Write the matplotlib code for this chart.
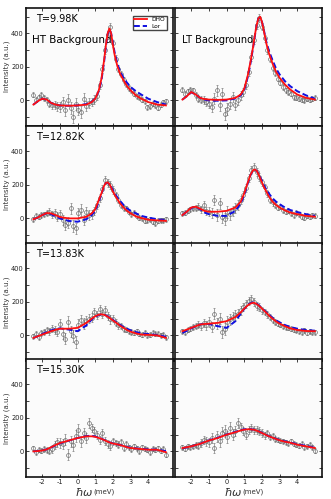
import numpy as np
import matplotlib
matplotlib.use("Agg")
import matplotlib.pyplot as plt

# energy transfer of the measured points (meV)
x_data = [-2.5, -2.35, -2.2, -2.05, -1.9, -1.75, -1.6, -1.45, -1.3, -1.15, -1.0,
          -0.85, -0.7, -0.55, -0.4, -0.25, -0.1, 0.05, 0.2, 0.35, 0.5, 0.65,
          0.8, 0.95, 1.1, 1.25, 1.4, 1.55, 1.7, 1.85, 2.0, 2.15, 2.3, 2.45,
          2.6, 2.75, 2.9, 3.05, 3.2, 3.35, 3.5, 3.65, 3.8, 3.95, 4.1, 4.25,
          4.4, 4.55, 4.7, 4.85, 5.0]
# error bars (same for every panel)
err_data = [15, 15, 15, 16, 16, 18, 20, 22, 24, 26, 28, 30, 32, 34, 34, 35, 35,
            35, 34, 32, 30, 28, 26, 25, 24, 24, 24, 24, 24, 24, 22, 20, 20, 18,
            18, 17, 16, 16, 15, 15, 15, 15, 15, 15, 15, 15, 15, 15, 15, 15, 15]

# energy grid of the fit curves
x_fit = [-2.5, -2.25, -2.0, -1.75, -1.5, -1.25, -1.0, -0.5, 0.0, 0.5, 0.8, 1.0,
         1.2, 1.35, 1.5, 1.6, 1.7, 1.8, 1.9, 2.0, 2.1, 2.25, 2.4, 2.6, 2.8,
         3.0, 3.3, 3.6, 4.0, 4.5, 5.0]

temps = ["T=9.98K", "T=12.82K", "T=13.83K", "T=15.30K"]

# --- HT background column ---
ht_data = [
    [35, 5, 20, 35, 15, 0, -20, -30, -25, -35, -40, -10, -60, 5, -45, -100, -20,
     -55, -70, 10, -35, -15, -10, 5, 25, 90, 190, 300, 390, 440, 340, 250, 190,
     155, 120, 95, 75, 60, 40, 25, 20, 5, -5, -40, -35, -20, -30, -45, -25, -10, -5],
    [-5, 15, 10, 20, 25, 30, 40, 25, 35, 10, 25, -10, -40, -25, 60, -45, -60,
     30, 50, -10, 40, 20, 25, 45, 80, 120, 175, 230, 210, 200, 170, 140, 110,
     80, 65, 60, 40, 25, 35, 15, 5, 0, -15, -10, -5, -20, -30, -15, -10, -10, -5],
    [-5, 10, -10, 15, 20, 30, 25, 40, 35, 20, 70, 10, -20, 80, 25, -5, -40, 60,
     90, 70, 85, 100, 105, 140, 120, 160, 130, 150, 115, 95, 100, 75, 60, 55,
     40, 35, 25, 20, 15, 25, 10, 5, 15, 0, 5, 15, 10, 10, 0, 5, -10],
    [20, -5, 10, 5, 15, 10, 5, 15, 40, 55, 50, 45, 70, -20, 60, 40, 90, 130, 60,
     110, 80, 170, 140, 120, 100, 70, 110, 60, 45, 30, 60, 50, 40, 55, 20, 45,
     25, 15, 30, 20, 0, 25, 15, 10, -5, 15, 10, 20, 5, 15, -20],
]
ht_dho = [
    [-25, -5, 10, 5, -15, -25, -30, -32, -30, -25, -10, 10, 60, 130, 240, 330,
     400, 430, 400, 330, 270, 205, 160, 120, 85, 60, 30, 10, -10, -25, -30],
    [-5, 5, 20, 32, 30, 20, 8, 0, 0, 10, 30, 55, 110, 150, 195, 212, 215, 205,
     185, 160, 140, 115, 90, 65, 45, 30, 12, 2, -8, -12, -15],
    [-15, -5, 5, 15, 25, 33, 40, 40, 45, 75, 100, 115, 124, 126, 123, 118, 112,
     105, 97, 90, 82, 70, 58, 45, 32, 22, 12, 5, 3, 0, -15],
    [0, 2, 5, 12, 25, 38, 50, 65, 80, 90, 90, 87, 80, 75, 68, 63, 58, 54, 50,
     47, 45, 42, 38, 32, 25, 20, 17, 14, 10, 10, -5],
]
ht_lor = [
    [-25, -5, 10, 5, -15, -25, -30, -32, -30, -22, -8, 12, 55, 120, 230, 320,
     395, 425, 400, 340, 285, 220, 175, 135, 105, 80, 55, 35, 10, -10, -25],
    [-5, 5, 20, 30, 25, 12, 0, -15, -20, -5, 20, 45, 100, 145, 195, 212, 212,
     205, 190, 170, 150, 125, 105, 80, 60, 45, 30, 15, 5, -5, -10],
    [-15, -5, 8, 20, 30, 38, 42, 35, 25, 60, 95, 112, 122, 125, 123, 120, 114,
     108, 100, 93, 85, 74, 63, 50, 40, 30, 20, 12, 8, 2, -8],
    [0, 3, 6, 12, 24, 36, 48, 64, 80, 92, 93, 89, 82, 76, 69, 64, 59, 55, 51,
     48, 45, 42, 38, 33, 27, 22, 18, 15, 12, 10, 2],
]

# --- LT background column ---
lt_data = [
    [65, 40, 55, 65, 60, 30, 10, 5, 0, -10, -20, -40, 10, 60, -30, 40, -80, -50,
     -20, 20, -30, 0, 30, 50, 90, 170, 260, 360, 450, 495, 440, 370, 300, 250,
     195, 165, 130, 105, 80, 60, 50, 40, 20, 15, 10, 5, 0, 10, 5, 10, 15],
    [30, 35, 45, 55, 60, 65, 70, 55, 80, 45, 40, 30, 110, 20, 90, 10, -5, 40,
     25, 45, 60, 80, 110, 140, 180, 240, 290, 305, 280, 250, 215, 185, 150, 110,
     95, 80, 65, 70, 50, 40, 45, 30, 20, 35, 25, 10, 5, 15, 10, 20, 15],
    [25, 20, 35, 40, 50, 55, 65, 55, 75, 60, 80, 50, 130, 70, 100, 20, 40, 80,
     95, 110, 120, 130, 150, 170, 185, 205, 220, 200, 175, 170, 150, 140, 125,
     110, 90, 80, 70, 65, 55, 50, 45, 40, 35, 30, 25, 20, 30, 15, 25, 20, 20],
    [25, 15, 30, 25, 30, 40, 35, 50, 70, 60, 55, 80, 20, 90, 60, 110, 120, 85,
     140, 100, 120, 170, 145, 120, 100, 125, 140, 130, 125, 120, 110, 95, 110,
     85, 90, 75, 70, 65, 60, 55, 50, 60, 45, 40, 35, 45, 25, 30, 40, 25, 5],
]
lt_dho = [
    [5, 25, 50, 35, 15, 8, 5, 3, 5, 15, 35, 70, 150, 230, 320, 390, 450, 490,
     500, 470, 420, 340, 280, 220, 170, 135, 95, 65, 35, 15, 5],
    [20, 40, 65, 70, 58, 45, 40, 40, 45, 65, 100, 150, 215, 260, 288, 292, 285,
     265, 240, 215, 190, 160, 130, 100, 80, 65, 48, 35, 25, 15, 10],
    [25, 35, 45, 55, 65, 68, 70, 75, 85, 110, 138, 160, 180, 190, 195, 193, 187,
     180, 170, 160, 150, 135, 118, 100, 83, 70, 55, 42, 32, 26, 25],
    [20, 25, 30, 38, 45, 55, 65, 80, 100, 115, 125, 130, 132, 132, 130, 128,
     124, 120, 115, 110, 105, 97, 90, 82, 74, 66, 58, 52, 40, 30, 20],
]
lt_lor = [
    [5, 25, 48, 35, 15, 5, 0, -2, 0, 12, 30, 62, 140, 220, 315, 385, 450, 490,
     495, 470, 425, 350, 295, 240, 190, 155, 115, 85, 55, 30, 10],
    [20, 40, 62, 70, 55, 35, 25, 15, 15, 45, 90, 140, 210, 258, 285, 290, 285,
     268, 245, 225, 200, 172, 148, 120, 100, 85, 65, 50, 38, 25, 15],
    [15, 28, 42, 55, 65, 70, 68, 55, 45, 85, 130, 158, 182, 193, 197, 195, 190,
     182, 172, 162, 152, 138, 123, 105, 90, 78, 62, 50, 40, 32, 28],
    [18, 24, 30, 38, 46, 56, 66, 82, 101, 117, 127, 132, 134, 133, 131, 128,
     125, 121, 116, 111, 106, 98, 91, 83, 75, 68, 60, 53, 43, 33, 22],
]

fig = plt.figure(figsize=(3.31, 4.99), dpi=100)
fig.patch.set_facecolor("white")

col_left = [26 / 331, 175 / 331]
col_w = 147 / 331
row_tops = [8, 126, 243, 359]
row_h = 117.5 / 499

yt = [-100, 0, 100, 200, 300, 400, 500]
ytl = ["", "0", "", "200", "", "400", ""]
xt = [-2, -1, 0, 1, 2, 3, 4]

for c, (dsets, dho, lor) in enumerate([(ht_data, ht_dho, ht_lor),
                                        (lt_data, lt_dho, lt_lor)]):
    for r in range(4):
        bottom = 1 - (row_tops[r] + row_h * 499) / 499
        ax = fig.add_axes([col_left[c], bottom, col_w, row_h])
        ax.set_facecolor("#fbfbfb")
        ax.errorbar(x_data, dsets[r], yerr=err_data, fmt="o", ms=2.8,
                    mfc="none", mec="#707070", mew=0.5, ecolor="#808080",
                    elinewidth=0.5, capsize=0.8, zorder=2)
        ax.plot(x_fit, lor[r], color="#1010e0", ls=(0, (3, 1.5)), lw=1.4,
                label="Lor", zorder=3)
        ax.plot(x_fit, dho[r], color="#ff1010", lw=1.3, label="DHO", zorder=4)
        ax.set_xlim(-2.92, 5.4)
        ax.set_ylim(-150, 552)
        ax.set_xticks(xt)
        ax.set_yticks(yt)
        ax.tick_params(direction="in", top=True, right=True, length=2.5,
                       width=0.6, labelsize=4.8, pad=1.5, colors="#222222")
        for sp in ax.spines.values():
            sp.set_linewidth(1.2)
            sp.set_color("#111111")
        if c == 0:
            ax.set_yticklabels(ytl)
            ax.set_ylabel("Intensity (a.u.)", fontsize=5, labelpad=0.5,
                          color="#333333")
            ax.text(0.07, 0.95, temps[r], transform=ax.transAxes, fontsize=7,
                    va="top", ha="left")
        else:
            ax.set_yticklabels([])
        if r == 3:
            ax.set_xticklabels([str(v) for v in xt])
            ax.text(0.46, -0.085, r"$\hbar\omega$", transform=ax.transAxes,
                    fontsize=8, va="top", ha="right", color="#333333")
            ax.text(0.46, -0.1, "(meV)", transform=ax.transAxes,
                    fontsize=5, va="top", ha="left", color="#333333")
        else:
            ax.set_xticklabels([])
        if r == 0 and c == 0:
            ax.text(0.04, 0.77, "HT Background", transform=ax.transAxes,
                    fontsize=7.5, va="top", ha="left")
            h, l = ax.get_legend_handles_labels()
            ax.legend(h[::-1], l[::-1], loc="upper right", fontsize=4.2,
                      handlelength=2.2, borderpad=0.3, labelspacing=0.2,
                      fancybox=False, edgecolor="#444444", framealpha=1,
                      bbox_to_anchor=(0.98, 0.96))
        if r == 0 and c == 1:
            ax.text(0.05, 0.77, "LT Background", transform=ax.transAxes,
                    fontsize=7, va="top", ha="left")

fig.savefig("out.png", dpi=100)
